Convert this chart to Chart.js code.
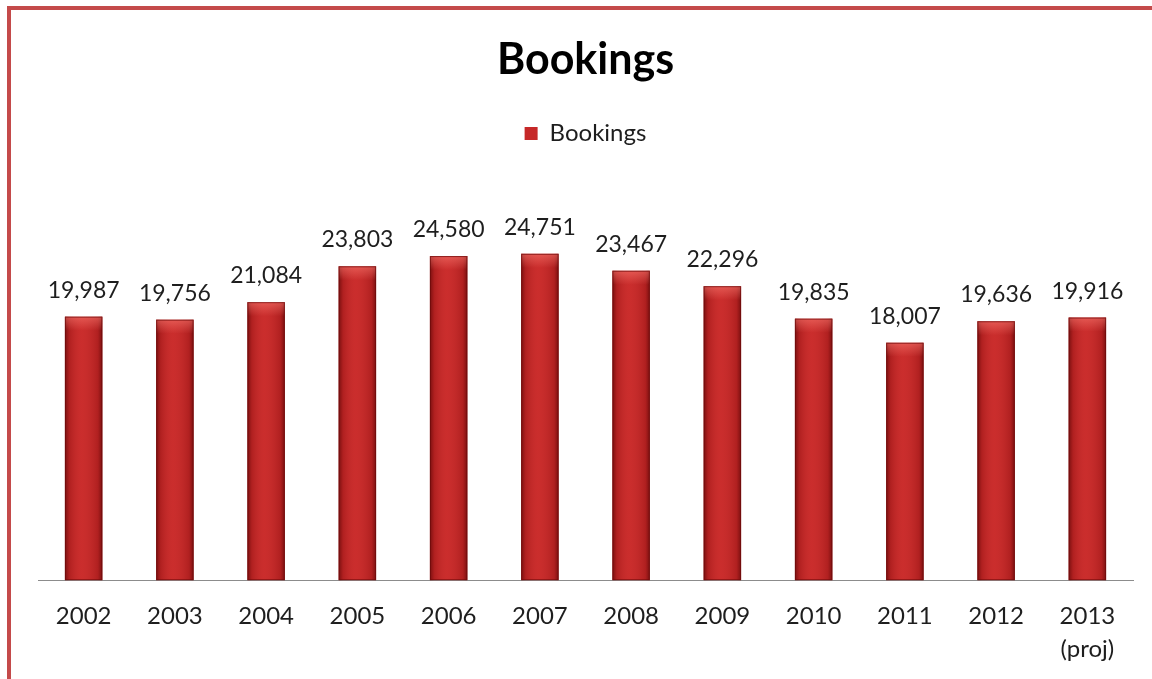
<!DOCTYPE html>
<html>
<head>
<meta charset="utf-8">
<script src="https://cdn.jsdelivr.net/npm/chart.js@4/dist/chart.umd.min.js"></script>
<style>
  html, body { margin: 0; padding: 0; background: #ffffff; overflow: hidden; }
  #frame {
    position: absolute; left: 7px; top: 6px; width: 1145px; height: 673px;
    border-top: 4px solid #c44a4a; border-left: 4px solid #c44a4a;
    box-sizing: border-box;
  }
  #wrap { position: absolute; left: 0; top: 0; width: 1152px; height: 679px; }
</style>
</head>
<body>
<div id="frame"></div>
<div id="wrap"><canvas id="c" width="1152" height="679"></canvas></div>
<script>
// Yearly bookings, 2002 through the 2013 projection
const years = ['2002', '2003', '2004', '2005', '2006', '2007', '2008', '2009', '2010', '2011', '2012', ['2013', '(proj)']];
const bookings = [19987, 19756, 21084, 23803, 24580, 24751, 23467, 22296, 19835, 18007, 19636, 19916];
const seriesName = 'Bookings';
const titleText = 'Bookings';

const FONT = 'Lato, "Noto Sans", sans-serif';
const INK = '#1e1e1e';

// Shading over each bar: darker sides, a lighter cap at the top
const barShading = {
  id: 'barShading',
  afterDatasetsDraw(chart) {
    const ctx = chart.ctx;
    const meta = chart.getDatasetMeta(0);
    ctx.save();
    meta.data.forEach((bar) => {
      const p = bar.getProps(['x', 'y', 'base', 'width'], true);
      const l = p.x - p.width / 2, r = p.x + p.width / 2;
      const g = ctx.createLinearGradient(l, 0, r, 0);
      g.addColorStop(0, 'rgba(70,0,0,0.6)');
      g.addColorStop(0.12, 'rgba(90,0,0,0.2)');
      g.addColorStop(0.45, 'rgba(255,110,100,0.08)');
      g.addColorStop(0.88, 'rgba(90,0,0,0.2)');
      g.addColorStop(1, 'rgba(70,0,0,0.6)');
      ctx.fillStyle = g;
      ctx.fillRect(l, p.y, p.width, p.base - p.y);
      const cap = ctx.createLinearGradient(0, p.y, 0, p.y + 14);
      cap.addColorStop(0, 'rgba(255,130,120,0.5)');
      cap.addColorStop(1, 'rgba(255,130,120,0)');
      ctx.fillStyle = cap;
      ctx.fillRect(l, p.y, p.width, 14);
      ctx.strokeStyle = 'rgba(110,10,10,0.7)';
      ctx.lineWidth = 1;
      ctx.strokeRect(l + 0.5, p.y + 0.5, p.width - 1, p.base - p.y - 1);
    });
    ctx.restore();
  }
};

// Value labels above the bars
const valueLabels = {
  id: 'valueLabels',
  afterDatasetsDraw(chart) {
    const ctx = chart.ctx;
    const meta = chart.getDatasetMeta(0);
    const values = chart.data.datasets[0].data;
    ctx.save();
    ctx.font = '23px ' + FONT;
    ctx.fillStyle = INK;
    ctx.textAlign = 'center';
    ctx.textBaseline = 'alphabetic';
    meta.data.forEach((bar, i) => {
      ctx.fillText(values[i].toLocaleString('en-US'), bar.x, bar.y - 19);
    });
    ctx.restore();
  }
};

// Extra room between the legend and the plot
const legendGap = {
  id: 'legendGap',
  beforeLayout(chart) {
    const lg = chart.legend;
    if (lg && !lg._gapPatched) {
      const fit = lg.fit;
      lg.fit = function () {
        fit.call(this);
        this.height += 29;
      };
      lg._gapPatched = true;
    }
  }
};

new Chart(document.getElementById('c'), {
  type: 'bar',
  data: {
    labels: years,
    datasets: [{
      label: seriesName,
      data: bookings,
      backgroundColor: '#c62828',
      borderWidth: 0,
      barPercentage: 0.41,
      categoryPercentage: 1.0
    }]
  },
  options: {
    responsive: false,
    animation: false,
    devicePixelRatio: 1,
    layout: { padding: { top: 24, left: 38, right: 19, bottom: -6 } },
    plugins: {
      title: {
        display: true,
        text: titleText,
        color: '#000',
        font: { family: FONT, size: 43, weight: 'bold' },
        padding: { top: 10, bottom: 19 }
      },
      legend: {
        display: true,
        labels: {
          color: INK,
          font: { family: FONT, size: 24 },
          boxWidth: 13,
          boxHeight: 13,
          padding: 17
        }
      },
      tooltip: { enabled: false }
    },
    scales: {
      x: {
        grid: { display: false, drawTicks: false },
        border: { display: true, color: '#8c8c8c', width: 1 },
        ticks: { color: INK, font: { family: FONT, size: 24, lineHeight: 1.35 }, padding: 20, maxRotation: 0 }
      },
      y: {
        display: false,
        min: 0,
        max: 30000
      }
    }
  },
  plugins: [legendGap, barShading, valueLabels]
});
</script>
</body>
</html>
